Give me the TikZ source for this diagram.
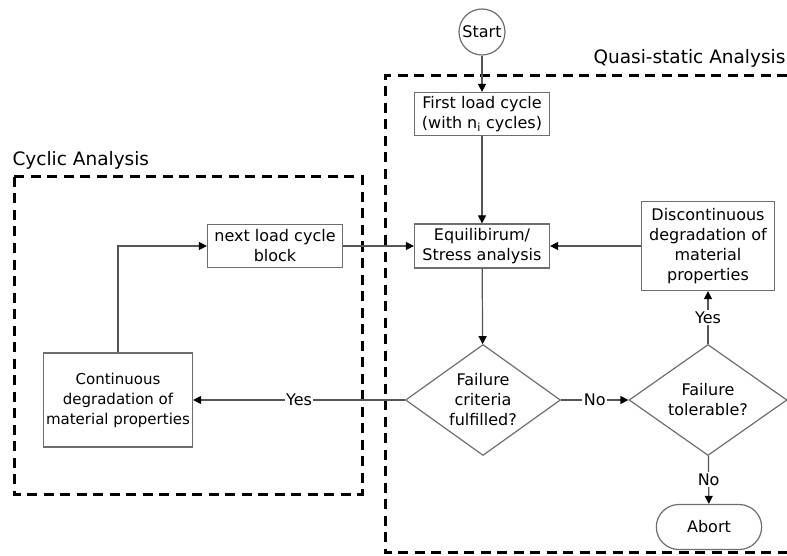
\documentclass[tikz,border=0pt]{standalone}
\usepackage{fontspec}
\setmainfont{DejaVu Sans}
\usetikzlibrary{arrows.meta,shapes.geometric,shapes.misc}
\definecolor{boxline}{HTML}{6E6E6E}
\definecolor{conline}{HTML}{555555}
\begin{document}
\begin{tikzpicture}[x=1pt, y=-1pt,
  every node/.style={font=\fontsize{16}{20}\selectfont},
  block/.style={draw=boxline, line width=1.2pt, align=center, inner sep=2pt},
  decision/.style={diamond, draw=boxline, line width=1.2pt, align=center, aspect=1.37, inner sep=0pt, minimum width=155pt, minimum height=111pt},
  region/.style={black, line width=3pt, dash pattern=on 10pt off 6.5pt},
  regionlabel/.style={font=\fontsize{18.5}{22}\selectfont},
  flow/.style={conline, line width=1.2pt, -{Triangle[length=8pt,width=8pt,color=black]}},
  tag/.style={fill=white, text=black, inner sep=1.5pt}]
  \useasboundingbox (0,0) rectangle (787,556);
  % analysis regions
  \draw[region] (14,177) rectangle (362,494);
  \draw[region] (787,76) -- (385,76) -- (385,552) -- (787,552);
  \node[regionlabel, anchor=east] (quasilabel) at (789,58) {Quasi-static Analysis};
  \node[regionlabel, anchor=west] (cycliclabel) at (9,160) {Cyclic Analysis};
  % nodes
  \node[circle, draw=boxline, line width=1.2pt, minimum size=46pt, inner sep=0pt] (start) at (482,32) {Start};
  \node[block, minimum width=135pt, minimum height=43pt] (firstload) at (482,114) {First load cycle\\(with n\textsubscript{i} cycles)};
  \node[block, minimum width=135pt, minimum height=44pt] (stress) at (482,246) {Equilibirum/\\Stress analysis};
  \node[block, minimum width=135pt, minimum height=43pt] (nextload) at (275,246) {next load cycle\\block};
  \node[block, minimum width=133pt, minimum height=89pt] (discont) at (708,246) {Discontinuous\\degradation of\\material\\properties};
  \node[block, inner sep=0pt, minimum width=149pt, minimum height=94pt, font=\fontsize{15}{20}\selectfont] (contin) at (118,400) {Continuous\\degradation of\\material properties};
  \node[decision] (criteria) at (483,400) {Failure\\criteria\\fulfilled?};
  \node[decision, minimum width=158pt] (tolerable) at (708,400) {Failure\\tolerable?};
  \node[rounded rectangle, draw=boxline, line width=1.2pt, minimum width=112pt, minimum height=45pt] (abort) at (709,527) {Abort};
  % connectors
  \draw[flow] (start) -- (firstload);
  \draw[flow] (firstload) -- (stress);
  \draw[flow] (nextload) -- (stress);
  \draw[flow] (discont) -- (stress);
  \draw[flow] (stress) -- (criteria);
  \draw[flow] (contin.north) |- (nextload.west);
  \draw[flow] (criteria) -- node[tag] {Yes} (contin);
  \draw[flow] (criteria) -- node[tag] {No} (tolerable);
  \draw[flow] (tolerable) -- node[tag] {Yes} (discont);
  \draw[flow] (tolerable) -- node[tag] {No} (abort);
\end{tikzpicture}
\end{document}
